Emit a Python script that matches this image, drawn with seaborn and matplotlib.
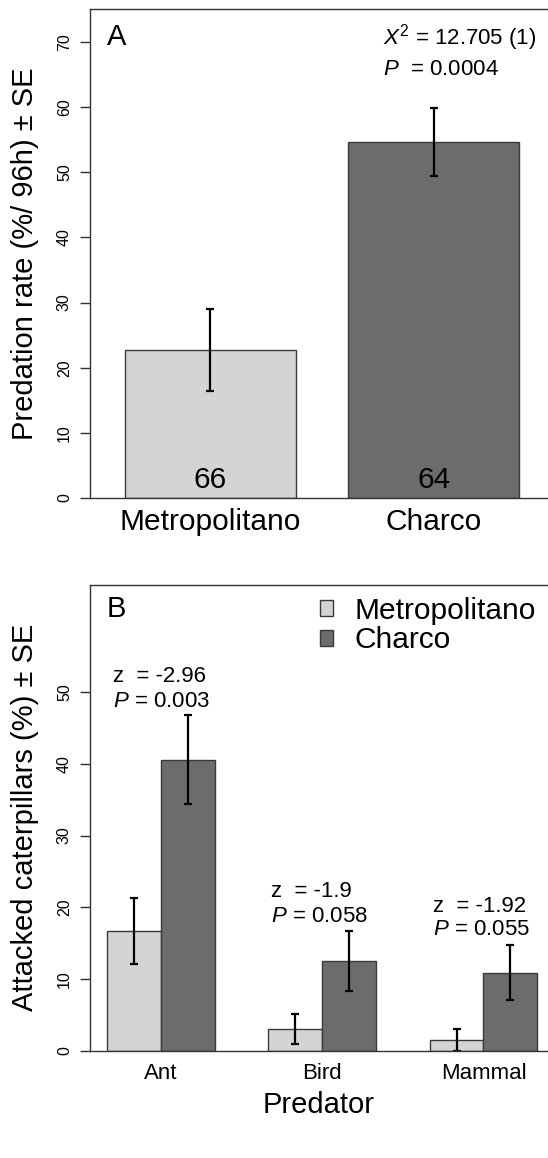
import pandas as pd
import seaborn as sns
import matplotlib.pyplot as plt
from matplotlib.patches import Patch

# Panel A data
sites = ['Metropolitano', 'Charco']
rate = [22.7, 54.7]
rate_lo = [16.5, 49.5]
rate_hi = [29.0, 59.9]
n_caterpillars = ['66', '64']

# Panel B data
predators = ['Ant', 'Bird', 'Mammal']
attacked_metro = [16.7, 3.0, 1.5]
attacked_metro_lo = [12.1, 0.9, 0.0]
attacked_metro_hi = [21.3, 5.1, 3.05]
attacked_charco = [40.6, 12.5, 10.9]
attacked_charco_lo = [34.4, 8.3, 7.0]
attacked_charco_hi = [46.8, 16.7, 14.8]
z_labels = ['z  = -2.96', 'z  = -1.9', 'z  = -1.92']
p_labels = ['0.003', '0.058', '0.055']

light = '#d4d4d4'
dark = '#6c6c6c'
edge = '#3a3a3a'

sns.set_style('ticks')
plt.rcParams['font.family'] = ['Liberation Sans', 'DejaVu Sans']
plt.rcParams['mathtext.fontset'] = 'custom'
plt.rcParams['mathtext.rm'] = 'Liberation Sans'
plt.rcParams['mathtext.it'] = 'Liberation Sans:italic'
plt.rcParams['text.color'] = 'black'
plt.rcParams['axes.labelcolor'] = 'black'
plt.rcParams['xtick.color'] = 'black'
plt.rcParams['ytick.color'] = 'black'

fig = plt.figure(figsize=(5.48, 11.58), dpi=100)
axA = fig.add_axes([0.1642, 0.5699, 0.8358, 0.4226])
axB = fig.add_axes([0.1642, 0.0927, 0.8358, 0.4024])


def style_axes(ax):
    for side in ['top', 'left', 'bottom']:
        ax.spines[side].set_color('#333333')
        ax.spines[side].set_linewidth(1.0)
    ax.spines['right'].set_visible(False)
    ax.tick_params(axis='y', labelrotation=90, length=7, width=1,
                   color='#333333', labelcolor='black', labelsize=11.5, pad=6)
    for lab in ax.get_yticklabels():
        lab.set_va('center')
    ax.set_facecolor('white')


# ---------------- Panel A ----------------
dfA = pd.DataFrame({'Site': sites, 'Rate': rate})
sns.barplot(data=dfA, x='Site', y='Rate', hue='Site', palette=[light, dark],
            legend=False, width=0.765, edgecolor=edge, linewidth=1.0,
            errorbar=None, ax=axA)
for i, bar in enumerate(list(axA.patches)):
    cx = bar.get_x() + bar.get_width() / 2
    axA.errorbar(cx, rate[i], yerr=[[rate[i] - rate_lo[i]], [rate_hi[i] - rate[i]]],
                 fmt='none', ecolor='black', elinewidth=1.6, capsize=3, capthick=1.6)
    axA.text(cx, 1.5, n_caterpillars[i], ha='center', va='baseline', fontsize=21.5)

axA.set_xlim(-0.539, 1.51)
axA.set_ylim(0, 75.1)
axA.set_yticks(range(0, 71, 10))
style_axes(axA)
axA.tick_params(axis='x', length=0, labelsize=21.5, labelcolor='black', pad=7)
axA.set_xlabel('')
axA.set_ylabel('Predation rate (%/ 96h) ± SE', fontsize=21)
axA.yaxis.set_label_coords(-0.112, 0.5)
axA.text(0.036, 0.926, 'A', transform=axA.transAxes, fontsize=21, va='baseline')
axA.text(0.640, 0.926, r'$\mathit{X}^2$ = 12.705 (1)', transform=axA.transAxes,
         fontsize=16, va='baseline')
axA.text(0.640, 0.864, r'$\mathit{P}$  = 0.0004', transform=axA.transAxes,
         fontsize=16, va='baseline')

# ---------------- Panel B ----------------
dfB = pd.DataFrame({
    'Predator': predators * 2,
    'Site': ['Metropolitano'] * 3 + ['Charco'] * 3,
    'Attacked': attacked_metro + attacked_charco,
})
sns.barplot(data=dfB, x='Predator', y='Attacked', hue='Site', hue_order=sites,
            palette=[light, dark], width=0.667, edgecolor=edge, linewidth=1.0,
            errorbar=None, ax=axB)
vals = [attacked_metro, attacked_charco]
los = [attacked_metro_lo, attacked_charco_lo]
his = [attacked_metro_hi, attacked_charco_hi]
bar_groups = list(axB.containers)[:2]
for k, cont in enumerate(bar_groups):
    for j, bar in enumerate(cont):
        cx = bar.get_x() + bar.get_width() / 2
        v = vals[k][j]
        axB.errorbar(cx, v, yerr=[[v - los[k][j]], [his[k][j] - v]],
                     fmt='none', ecolor='black', elinewidth=1.6, capsize=3, capthick=1.6)

axB.set_xlim(-0.44, 2.40)
axB.set_ylim(0, 65)
axB.set_yticks(range(0, 51, 10))
style_axes(axB)
axB.tick_params(axis='x', length=0, labelsize=16, labelcolor='black', pad=9)
axB.set_xlabel('Predator', fontsize=21, labelpad=5)
axB.set_ylabel('Attacked caterpillars (%) ± SE', fontsize=21)
axB.yaxis.set_label_coords(-0.112, 0.5)
axB.text(0.036, 0.931, 'B', transform=axB.transAxes, fontsize=21, va='baseline')

ann_x = [-0.30, 0.684, 1.684]
ann_z_y = [51.4, 21.45, 19.3]
ann_p_y = [48.0, 18.0, 16.1]
for j in range(3):
    axB.text(ann_x[j], ann_z_y[j], z_labels[j], fontsize=16, va='baseline')
    axB.text(ann_x[j], ann_p_y[j], r'$\mathit{P}$ = ' + p_labels[j],
             fontsize=16, va='baseline')

handles = [Patch(facecolor=light, edgecolor=edge, linewidth=1.0),
           Patch(facecolor=dark, edgecolor=edge, linewidth=1.0)]
axB.legend(handles, sites, loc='upper left', bbox_to_anchor=(0.584, 0.4845),
           bbox_transform=fig.transFigure, frameon=False, fontsize=21.5,
           handlelength=0.45, handleheight=0.45, handletextpad=0.7,
           labelspacing=0.05, borderpad=0, borderaxespad=0)

fig.savefig('out.png', dpi=100, facecolor='white')
